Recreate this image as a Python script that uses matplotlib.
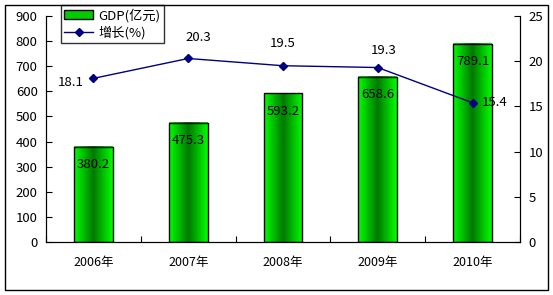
import numpy as np
import matplotlib
matplotlib.use('Agg')
import matplotlib.pyplot as plt
from matplotlib.patches import Rectangle
from matplotlib.lines import Line2D
from matplotlib.colors import LinearSegmentedColormap

plt.rcParams['font.family'] = ['Noto Sans CJK SC', 'DejaVu Sans']

years = ['2006年', '2007年', '2008年', '2009年', '2010年']
gdp = [380.2, 475.3, 593.2, 658.6, 789.1]
growth = [18.1, 20.3, 19.5, 19.3, 15.4]

fig = plt.figure(figsize=(5.53, 2.95), dpi=100)
fig.patches.append(Rectangle((5 / 553, 5 / 295), 543 / 553, 285 / 295, transform=fig.transFigure,
                             fill=False, edgecolor='black', linewidth=1))

ax = fig.add_axes([46 / 553, 53 / 295, 474 / 553, 226 / 295])
ax2 = ax.twinx()

# gradient bars
cmap = LinearSegmentedColormap.from_list('g', ['#00ff00', '#007800', '#00ff00'])
grad = np.linspace(0, 1, 64).reshape(1, -1)
x = np.arange(len(years))
w = 0.41
for xi, v in zip(x, gdp):
    ax.imshow(grad, cmap=cmap, extent=(xi - w / 2, xi + w / 2, 0, v), aspect='auto', zorder=2)
    ax.add_patch(Rectangle((xi - w / 2, 0), w, v, fill=False, edgecolor='black', linewidth=1, zorder=3))
    ax.annotate(f'{v}', (xi, v), xytext=(0, -13), textcoords='offset points',
                ha='center', va='center', fontsize=9.5, zorder=4)

ax.set_xlim(-0.5, len(years) - 0.5)
ax.set_ylim(0, 900)
ax.set_yticks(range(0, 901, 100))
ax.set_xticks(np.arange(-0.5, len(years), 1))
ax.set_xticklabels([])
ax.set_xticks(x, minor=True)
ax.set_xticklabels(years, minor=True)
ax.tick_params(axis='x', which='major', direction='in', length=4)
ax.tick_params(axis='x', which='minor', length=0, pad=10, labelsize=9)
ax.tick_params(axis='y', direction='in', length=4, labelsize=9.5, pad=6)
ax.spines['top'].set_visible(False)

ax2.plot(x, growth, color='#000080', linewidth=1, marker='D', markersize=4, zorder=5)
ax2.set_ylim(0, 25)
ax2.set_yticks(range(0, 26, 5))
ax2.tick_params(axis='y', direction='in', length=4, labelsize=9.5, pad=6)
ax2.spines['top'].set_visible(False)

offsets = [(-16, -3), (7, 15), (0, 16), (4, 12), (16, 0)]
for xi, g, off in zip(x, growth, offsets):
    ax2.annotate(f'{g}', (xi, g), xytext=off, textcoords='offset points',
                 ha='center', va='center', fontsize=9.5)

handles = [Rectangle((0, 0), 1, 1, facecolor='#00cc00', edgecolor='black'),
           Line2D([], [], color='#000080', marker='D', markersize=4, linewidth=1)]
leg = ax2.legend(handles, ['GDP(亿元)', '增长(%)'], loc='upper left',
                 bbox_to_anchor=(61 / 553, 290 / 295), bbox_transform=fig.transFigure,
                 fontsize=9.5, frameon=True, fancybox=False, edgecolor='black',
                 borderpad=0.25, labelspacing=0.3, handlelength=2.2, handletextpad=0.4,
                 borderaxespad=0)
leg.get_frame().set_linewidth(1)

fig.savefig('out.png', dpi=100)
